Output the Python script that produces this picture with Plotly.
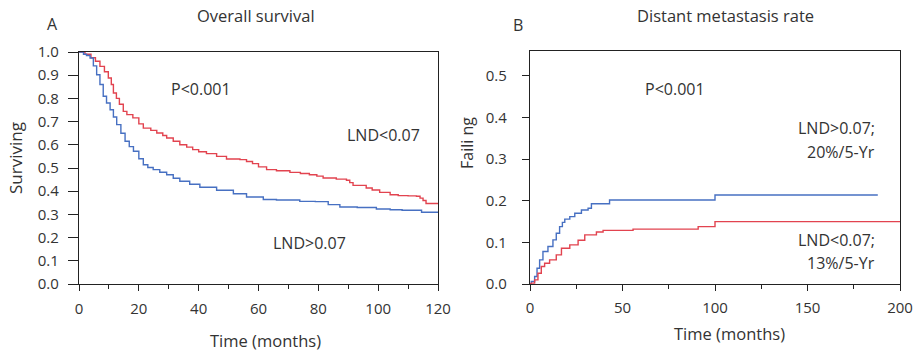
import plotly.graph_objects as go

# ---- Data: Panel A, overall survival (Kaplan-Meier) ----
os_low_t = [0, 2, 4, 5.5, 7, 8.5, 9.8, 10.8, 11.5, 12.5, 13.5, 14.8, 16, 18, 20, 21.5, 24, 26, 28, 29.3, 31.5, 33.7, 36, 38, 40, 42.6, 46, 49.3, 53.8, 56, 58, 60, 62.7, 66, 70.5, 74, 77, 79.5, 81.6, 86, 89.4, 90.5, 91.6, 96, 98, 100.5, 104, 106.7, 110, 112.8, 114, 115, 116, 120]
os_low_s = [1.0, 0.99, 0.975, 0.96, 0.938, 0.915, 0.888, 0.86, 0.823, 0.8, 0.775, 0.744, 0.73, 0.716, 0.69, 0.672, 0.662, 0.651, 0.64, 0.629, 0.615, 0.6, 0.59, 0.579, 0.57, 0.562, 0.55, 0.539, 0.536, 0.528, 0.519, 0.505, 0.493, 0.488, 0.481, 0.476, 0.471, 0.465, 0.457, 0.452, 0.447, 0.437, 0.425, 0.414, 0.405, 0.395, 0.385, 0.381, 0.38, 0.378, 0.37, 0.36, 0.347, 0.347]

os_high_t = [0, 1.5, 2.5, 3.7, 4.8, 5.9, 7, 8.1, 9.2, 10.4, 11.5, 12.6, 14, 15.4, 16.8, 18.2, 20, 21.5, 23, 24.8, 27, 29.3, 31.5, 33.7, 37, 40.4, 46, 51.6, 56, 61.6, 66, 73.8, 79, 83.3, 87.2, 93, 99.4, 104, 108, 114.5, 120]
os_high_s = [1.0, 0.99, 0.985, 0.974, 0.94, 0.902, 0.86, 0.809, 0.78, 0.751, 0.72, 0.687, 0.65, 0.615, 0.592, 0.572, 0.54, 0.514, 0.502, 0.493, 0.482, 0.471, 0.456, 0.443, 0.43, 0.417, 0.404, 0.389, 0.375, 0.364, 0.362, 0.356, 0.355, 0.342, 0.332, 0.33, 0.323, 0.32, 0.318, 0.309, 0.309]

# ---- Data: Panel B, distant metastasis (cumulative failing) ----
dm_high_t = [0, 0.7, 2.5, 3.8, 5.2, 7, 9.7, 12.4, 14.2, 16, 17.5, 18.8, 21.5, 24.2, 27.8, 31.4, 33.2, 39.5, 43, 99, 100, 188]
dm_high_f = [0, 0.006, 0.018, 0.038, 0.058, 0.078, 0.09, 0.106, 0.122, 0.138, 0.148, 0.156, 0.162, 0.17, 0.178, 0.182, 0.193, 0.193, 0.202, 0.202, 0.214, 0.214]

dm_low_t = [0, 0.7, 2.5, 4.3, 6.1, 7.9, 10.6, 14.2, 17, 21.5, 26, 29.6, 35.9, 39.5, 55.7, 90.9, 100, 200]
dm_low_f = [0, 0.002, 0.01, 0.026, 0.042, 0.05, 0.058, 0.07, 0.086, 0.094, 0.105, 0.118, 0.125, 0.129, 0.132, 0.138, 0.15, 0.149]

RED = "#E2434F"
BLUE = "#4770C2"
TXT = "#333333"
FONT = "Open Sans"

W, H = 919, 352

def px(x):
    return x / W

def py(y):
    return 1 - y / H

fig = go.Figure()
fig.add_trace(go.Scatter(x=os_low_t, y=os_low_s, mode="lines", line=dict(color=RED, width=1.4, shape="hv"), xaxis="x", yaxis="y", showlegend=False))
fig.add_trace(go.Scatter(x=os_high_t, y=os_high_s, mode="lines", line=dict(color=BLUE, width=1.4, shape="hv"), xaxis="x", yaxis="y", showlegend=False))
fig.add_trace(go.Scatter(x=dm_high_t, y=dm_high_f, mode="lines", line=dict(color=BLUE, width=1.4, shape="hv"), xaxis="x2", yaxis="y2", showlegend=False))
fig.add_trace(go.Scatter(x=dm_low_t, y=dm_low_f, mode="lines", line=dict(color=RED, width=1.4, shape="hv"), xaxis="x2", yaxis="y2", showlegend=False))

axis_common = dict(showline=True, linecolor="#222", linewidth=1.2, mirror=True, showgrid=False, zeroline=False,
                   automargin=False, ticks="outside", tickcolor="#222",
                   tickfont=dict(family=FONT, size=15, color=TXT))

fig.update_layout(
    template="none",
    width=W, height=H, autosize=False, margin=dict(l=0, r=0, t=0, b=0, pad=0),
    paper_bgcolor="white", plot_bgcolor="white", hovermode=False,
    xaxis=dict(domain=[px(79), px(438)], range=[0, 120], tickvals=[0, 20, 40, 60, 80, 100, 120],
               ticklen=6, ticklabelstandoff=5, minor=dict(dtick=10, ticks="outside", ticklen=4, tickcolor="#222"),
               anchor="y", **axis_common),
    yaxis=dict(domain=[py(284), py(52)], range=[0, 1.0], tickvals=[i / 10 for i in range(11)], tickformat=".1f",
               ticklen=10, ticklabelstandoff=6, anchor="x", **axis_common),
    xaxis2=dict(domain=[px(530), px(900)], range=[0, 200], tickvals=[0, 50, 100, 150, 200],
                ticklen=6, ticklabelstandoff=4, minor=dict(dtick=25, ticks="outside", ticklen=4, tickcolor="#222"),
                anchor="y2", **axis_common),
    yaxis2=dict(domain=[py(284), py(51)], range=[0, 0.56], tickvals=[0, 0.1, 0.2, 0.3, 0.4, 0.5], tickformat=".1f",
                ticklen=7, ticklabelstandoff=12, anchor="x2", **axis_common),
)

def ann(text, x, y, size=16, xanchor="center", angle=0, xref="paper", yref="paper"):
    fig.add_annotation(text=text, x=x, y=y, xref=xref, yref=yref, showarrow=False,
                       xanchor=xanchor, yanchor="middle", textangle=angle,
                       font=dict(family=FONT, size=size, color=TXT))

# panel titles / labels (paper pixels)
ann("Overall survival", px(256), py(16), size=16.5)
ann("A", px(52), py(24), size=16)
ann("B", px(518), py(25), size=16)
ann("Distant metastasis rate", px(725), py(16), size=16.5)
ann("Surviving", px(15), py(158), size=17, angle=-90)
ann("Faili ng", px(467), py(143), size=16, angle=-90)
ann("Time (months)", px(265), py(340), size=16.5)
ann("Time (months)", px(729), py(333), size=16.5)

# in-plot annotations
ann("P<0.001", 40.8, 0.84, xref="x", yref="y")
ann("LND<0.07", 101.7, 0.642, xref="x", yref="y")
ann("LND>0.07", 76.9, 0.177, xref="x", yref="y")
ann("P<0.001", 78.4, 0.469, xref="x2", yref="y2")
ann("LND>0.07;", 187.6, 0.375, xanchor="right", xref="x2", yref="y2")
ann("20%/5-Yr", 187.6, 0.317, xanchor="right", xref="x2", yref="y2")
ann("LND<0.07;", 187.6, 0.106, xanchor="right", xref="x2", yref="y2")
ann("13%/5-Yr", 187.6, 0.050, xanchor="right", xref="x2", yref="y2")

fig.write_html("out.html", config={"displayModeBar": False, "staticPlot": True},
               post_script="document.body.style.margin='0';document.body.style.overflow='hidden';")
